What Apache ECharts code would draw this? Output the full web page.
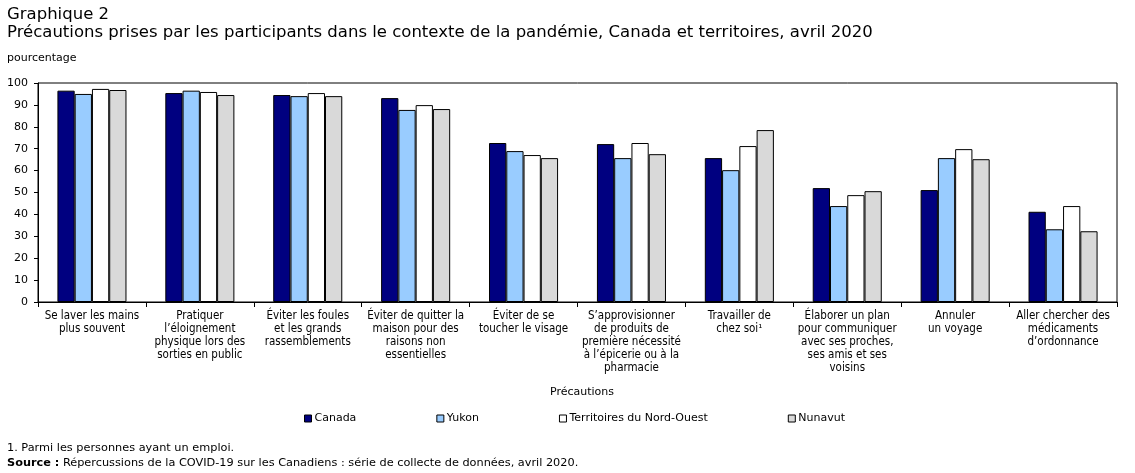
<!DOCTYPE html>
<html>
<head>
<meta charset="utf-8" />
<title>Graphique 2</title>
<script src="https://cdn.jsdelivr.net/npm/echarts@6/dist/echarts.min.js"></script>
<style>
	body { margin: 0; background: #fff; }
	#chart { width: 1135px; height: 473px; }
</style>
</head>
<body>
<div id="chart"></div>
<script type="text/javascript">
//catégories (précautions)
var categories = [
	"Se laver les mains\nplus souvent",
	"Pratiquer\nl’éloignement\nphysique lors des\nsorties en public",
	"Éviter les foules\net les grands\nrassemblements",
	"Éviter de quitter la\nmaison pour des\nraisons non\nessentielles",
	"Éviter de se\ntoucher le visage",
	"S’approvisionner\nde produits de\npremière nécessité\nà l’épicerie ou à la\npharmacie",
	"Travailler de\nchez soi¹",
	"Élaborer un plan\npour communiquer\navec ses proches,\nses amis et ses\nvoisins",
	"Annuler\nun voyage",
	"Aller chercher des\nmédicaments\nd’ordonnance"
];
//valeurs en pourcentage
var canada  = [96.5, 95.4, 94.5, 93.1, 72.6, 72.1, 65.7, 52.0, 51.1, 41.2];
var yukon   = [95.0, 96.5, 94.0, 87.7, 68.9, 65.7, 60.2, 43.8, 65.7, 33.2];
var tno     = [97.3, 95.9, 95.4, 89.9, 67.1, 72.6, 71.2, 48.8, 69.8, 43.8];
var nunavut = [96.8, 94.5, 94.0, 88.1, 65.7, 67.5, 78.5, 50.6, 65.2, 32.3];
var yTicks = [0, 10, 20, 30, 40, 50, 60, 70, 80, 90, 100];

var fnt = 'DejaVu Sans';
var fntC = 'DejaVu Sans Condensed';

function serie(name, data, color) {
	return {
		name: name,
		type: 'bar',
		data: data,
		barGap: '0%',
		barCategoryGap: '36%',
		itemStyle: { color: color, borderColor: '#000', borderWidth: 1 },
		emphasis: { disabled: true }
	};
}

var myChart = echarts.init(document.getElementById('chart'));
var option = {
	animation: false,
	textStyle: { fontFamily: fnt },
	title: [{
		text: 'Graphique 2\nPrécautions prises par les participants dans le contexte de la pandémie, Canada et territoires, avril 2020',
		left: 2, top: 1,
		textStyle: { fontFamily: fnt, fontSize: 16.5, fontWeight: 'normal', color: '#000', lineHeight: 18 }
	}, {
		text: 'pourcentage',
		left: 2, top: 48,
		textStyle: { fontFamily: fnt, fontSize: 11, fontWeight: 'normal', color: '#000' }
	}, {
		text: 'Précautions',
		left: 577, top: 382, textAlign: 'center',
		textStyle: { fontFamily: fnt, fontSize: 11, fontWeight: 'normal', color: '#000' }
	}, {
		text: '1. Parmi les personnes ayant un emploi.\n{b|Source :} Répercussions de la COVID-19 sur les Canadiens : série de collecte de données, avril 2020.',
		left: 2, top: 436,
		textStyle: {
			fontFamily: fnt, fontSize: 11.3, fontWeight: 'normal', color: '#000', lineHeight: 15,
			rich: { b: { fontFamily: fnt, fontSize: 11.3, fontWeight: 'bold', color: '#000' } }
		}
	}],
	legend: {
		top: 408,
		left: 299,
		itemWidth: 7,
		itemHeight: 7,
		itemGap: 80,
		icon: 'rect',
		selectedMode: false,
		itemStyle: { borderWidth: 1, borderColor: '#000' },
		textStyle: { fontFamily: fnt, fontSize: 11, color: '#000', padding: [0, 0, 0, -2] },
		data: ['Canada', 'Yukon', 'Territoires du Nord-Ouest', 'Nunavut']
	},
	grid: {
		left: 38, right: 18, top: 83, bottom: 171,
		show: true, borderColor: '#000', borderWidth: 1
	},
	xAxis: {
		type: 'category',
		data: categories,
		axisLine: { lineStyle: { color: '#000' } },
		axisTick: { show: true, length: 5, lineStyle: { color: '#000' } },
		axisLabel: { interval: 0, color: '#000', fontFamily: fntC, fontSize: 11.5, lineHeight: 13, margin: 8 }
	},
	yAxis: {
		type: 'value',
		min: yTicks[0],
		max: yTicks[yTicks.length - 1],
		interval: 10,
		splitLine: { show: false },
		axisLine: { show: true, lineStyle: { color: '#000' } },
		axisTick: { show: true, length: 4, lineStyle: { color: '#000' } },
		axisLabel: { color: '#000', fontFamily: fnt, fontSize: 11, margin: 10 }
	},
	series: [
		serie('Canada', canada, '#000080'),
		serie('Yukon', yukon, '#99ccff'),
		serie('Territoires du Nord-Ouest', tno, '#ffffff'),
		serie('Nunavut', nunavut, '#d9d9d9')
	]
};
myChart.setOption(option);
</script>
</body>
</html>
